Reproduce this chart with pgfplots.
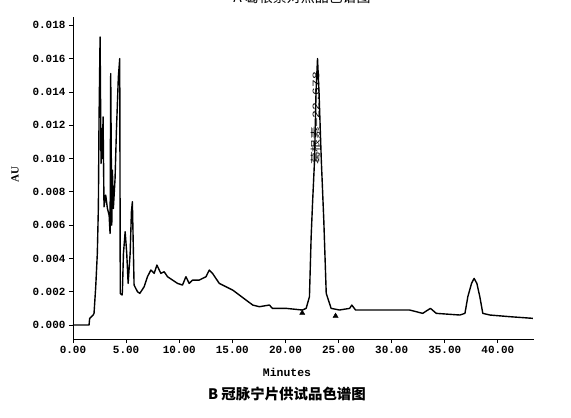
\documentclass[border=0pt]{standalone}
\usepackage{fontspec}
\setmainfont{Liberation Mono}
\newfontfamily\cjk{Noto Sans CJK SC}
\newfontfamily\serifb{Liberation Serif}
\usepackage{graphicx}
\usepackage{pgfplots}
\pgfplotsset{compat=1.18}
\begin{document}
\begin{tikzpicture}
\begin{axis}[
  at={(0,0)}, anchor=south west,
  scale only axis, width=461bp, height=322bp,
  xmin=0, xmax=43.4, ymin=-0.00084, ymax=0.0185,
  axis x line*=bottom, axis y line*=left,
  axis line style={-, line width=0.9pt},
  xtick={0,5,10,15,20,25,30,35,40},
  ytick={0,0.002,0.004,0.006,0.008,0.010,0.012,0.014,0.016,0.018},
  tick align=outside, major tick length=4bp,
  tick style={line width=0.8pt, black},
  scaled y ticks=false, scaled x ticks=false,
  /pgf/number format/assume math mode=true,
  x tick label style={/pgf/number format/.cd, fixed, fixed zerofill, precision=2},
  y tick label style={/pgf/number format/.cd, fixed, fixed zerofill, precision=3},
  ticklabel style={font=\bfseries\fontsize{11}{12}\selectfont},
  clip=false,
]
\addplot[black, line width=1.4pt, line join=round] coordinates {
(0.00,0.0000) (1.51,0.0000) (1.57,0.0004) (1.90,0.0006) (1.98,0.0007)
(2.14,0.0023) (2.29,0.0043) (2.39,0.0071) (2.45,0.0123) (2.55,0.0173)
(2.64,0.0097) (2.70,0.0118) (2.77,0.0100) (2.83,0.0125) (2.92,0.0071)
(3.08,0.0078) (3.24,0.0070) (3.40,0.0066) (3.49,0.0055) (3.55,0.0151)
(3.65,0.0060) (3.71,0.0093) (3.80,0.0070) (3.96,0.0088) (4.09,0.0117)
(4.27,0.0149) (4.40,0.0160) (4.45,0.0019) (4.62,0.0018) (4.65,0.0020)
(4.75,0.0043) (4.91,0.0056) (5.06,0.0043) (5.19,0.0025) (5.38,0.0043)
(5.50,0.0068) (5.59,0.0074) (5.75,0.0024) (6.07,0.0020) (6.29,0.0019)
(6.70,0.0023) (7.01,0.0029) (7.33,0.0033) (7.64,0.0031) (7.90,0.0036)
(8.27,0.0031) (8.58,0.0032) (8.90,0.0029) (9.37,0.0027) (9.84,0.0025)
(10.31,0.0024) (10.63,0.0029) (10.94,0.0025) (11.26,0.0027) (11.89,0.0027)
(12.52,0.0029) (12.83,0.0033) (13.14,0.0031) (13.77,0.0025) (15.03,0.0021)
(16.29,0.0015) (16.92,0.0012) (17.55,0.0011) (18.49,0.0012) (18.77,0.0010)
(20.07,0.0010) (21.60,0.0009) (21.95,0.0010) (22.26,0.0017) (22.42,0.0053)
(22.55,0.0073) (22.74,0.0099) (22.88,0.0140) (23.02,0.0160) (23.16,0.0140)
(23.37,0.0100) (23.61,0.0063) (23.84,0.0019) (24.30,0.0010) (25.09,0.0009)
(26.04,0.0010) (26.25,0.0012) (26.60,0.0009) (28.87,0.0009) (30.10,0.0009)
(31.70,0.0009) (32.92,0.0007) (33.65,0.0010) (34.20,0.0007) (36.42,0.0006)
(36.90,0.0007) (37.17,0.0017) (37.52,0.0025) (37.76,0.0028) (38.02,0.0025)
(38.30,0.0017) (38.58,0.0007) (39.25,0.0006) (41.13,0.0005) (43.30,0.0004)
};
\addplot[only marks, mark=triangle*, mark size=3bp, black] coordinates {
(21.58,0.00072) (24.72,0.00054)
};
\node[rotate=90, anchor=west, inner sep=0pt, font=\fontsize{10}{10}\selectfont]
  at (axis cs:22.83,0.0096) {\scalebox{1.3}[1]{{\cjk 葛根素}—22.678}};
\end{axis}
\node[font=\serifb\bfseries\fontsize{11}{12}\selectfont, rotate=90] at (-58bp,164bp) {AU};
\node[font=\bfseries\fontsize{11.5}{12}\selectfont] at (214bp,-33bp) {Minutes};
\node[font=\cjk\bfseries\fontsize{14.5}{15}\selectfont] at (214bp,-55bp) {B 冠脉宁片供试品色谱图};
\node[anchor=base, font=\cjk\fontsize{14}{14}\selectfont] at (229bp,336.5bp) {A 葛根素对照品色谱图};
\pgfresetboundingbox
\path[use as bounding box] (-73bp,-79bp) rectangle (498bp,339bp);
\end{tikzpicture}
\end{document}
